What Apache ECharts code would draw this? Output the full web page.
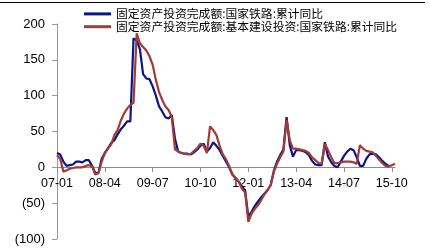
<!DOCTYPE html>
<html>
<head>
<meta charset="utf-8">
<script src="https://cdn.jsdelivr.net/npm/echarts@6/dist/echarts.min.js"></script>
<style>
html,body{margin:0;padding:0;background:#fff;}
#chart{width:430px;height:251px;}
</style>
</head>
<body>
<div id="chart"></div>
<script>
// Monthly categories 2007-01 .. 2015-11
const categories = [];
for (let y = 2007; y <= 2015; y++) {
  for (let m = 1; m <= 12; m++) {
    if (y === 2015 && m > 11) break;
    categories.push(String(y).slice(2) + '-' + String(m).padStart(2, '0'));
  }
}
const seriesNames = [
  '固定资产投资完成额:国家铁路:累计同比',
  '固定资产投资完成额:基本建设投资:国家铁路:累计同比'
];
const railYoY = [
  20, 18, 8, 2, 3, 4, 8, 8, 7, 10, 10, 2, -8, -8, 12, 20, 27, 34, 38, 46,
  53, 58, 64, 64, 180, 177, 165, 130, 124, 123, 113, 100, 85, 78, 70, 68, 73, 40, 22, 20,
  19, 19, 18, 21, 25, 30, 33, 22, 27, 35, 30, 24, 16, 8, 0, -10, -15, -20, -27, -32,
  -69, -62, -54, -48, -42, -37, -32, -25, -5, 8, 17, 25, 70, 31, 15, 24, 24, 23, 21, 17,
  9, 4, 3, 3, 35, 15, 7, 2, 0, 8, 16, 22, 26, 24, 14, 2, 2, 12, 18, 19,
  18, 14, 9, 5, 2, null, null
];
const railBasicYoY = [
  17, 12, -6, -4, -2, -1, 0, 0, 0, 2, 3, 1, -10, -8, 8, 20, 26, 32, 45, 52,
  65, 75, 82, 87, 90, 187, 173, 168, 163, 155, 143, 122, 105, 94, 85, 80, 70, 25, 22, 20,
  19, 18, 19, 23, 27, 33, 30, 20, 57, 52, 45, 30, 18, 11, 2, -10, -15, -20, -30, -35,
  -76, -65, -58, -53, -46, -38, -32, -25, -6, 5, 14, 22, 66, 38, 26, 26, 25, 24, 23, 20,
  14, 10, 6, 5, 33, 24, 14, 6, 6, 7, 8, 8, 8, 7, 5, 31, 26, 23, 22, 21,
  16, 11, 6, 2, 1, 3, 5
];
const yTicks = { min: -100, max: 200, interval: 50 };
const colors = ['#0b1684', '#a23a35'];

const chart = echarts.init(document.getElementById('chart'), null, { renderer: 'canvas' });
chart.setOption({
  animation: false,
  backgroundColor: '#fff',
  graphic: [{
    type: 'line', shape: { x1: 0, y1: 2.5, x2: 425, y2: 2.5 },
    style: { stroke: '#000', lineWidth: 1 }, silent: true
  }],
  legend: {
    orient: 'vertical', left: 79, top: 3, itemGap: 1,
    itemWidth: 27, itemHeight: 3, icon: 'rect',
    textStyle: { fontFamily: 'Noto Sans CJK SC', fontSize: 11.8, color: '#000' },
    data: seriesNames
  },
  grid: { left: 57, right: 35, top: 24, bottom: 12, containLabel: false, outerBoundsMode: 'none' },
  xAxis: {
    type: 'category', data: categories, boundaryGap: false, position: 'bottom', offset: -72,
    axisLine: { show: true, onZero: false, lineStyle: { color: '#8c8c8c', width: 1 } },
    axisTick: { show: true, interval: (idx) => idx % 15 === 0, length: 5, inside: false,
      lineStyle: { color: '#8c8c8c', width: 1 } },
    axisLabel: { interval: 14, margin: 10, fontFamily: 'Liberation Sans', fontSize: 12.5, color: '#000' },
    splitLine: { show: false }
  },
  yAxis: {
    type: 'value', min: yTicks.min, max: yTicks.max, interval: yTicks.interval,
    axisLine: { show: true, onZero: false, lineStyle: { color: '#999', width: 1 } },
    axisTick: { show: true, length: 5, lineStyle: { color: '#999' } },
    axisLabel: {
      margin: 12, fontFamily: 'Liberation Sans', fontSize: 13, color: '#000',
      formatter: v => v < 0 ? '(' + Math.abs(v) + ')' : String(v)
    },
    splitLine: { show: false }
  },
  series: [
    { name: seriesNames[0], type: 'line', data: railYoY, showSymbol: false, symbol: 'none',
      lineStyle: { color: colors[0], width: 2.2 }, itemStyle: { color: colors[0] }, connectNulls: false },
    { name: seriesNames[1], type: 'line', data: railBasicYoY, showSymbol: false, symbol: 'none',
      lineStyle: { color: colors[1], width: 2.2 }, itemStyle: { color: colors[1] } }
  ]
});
</script>
</body>
</html>
